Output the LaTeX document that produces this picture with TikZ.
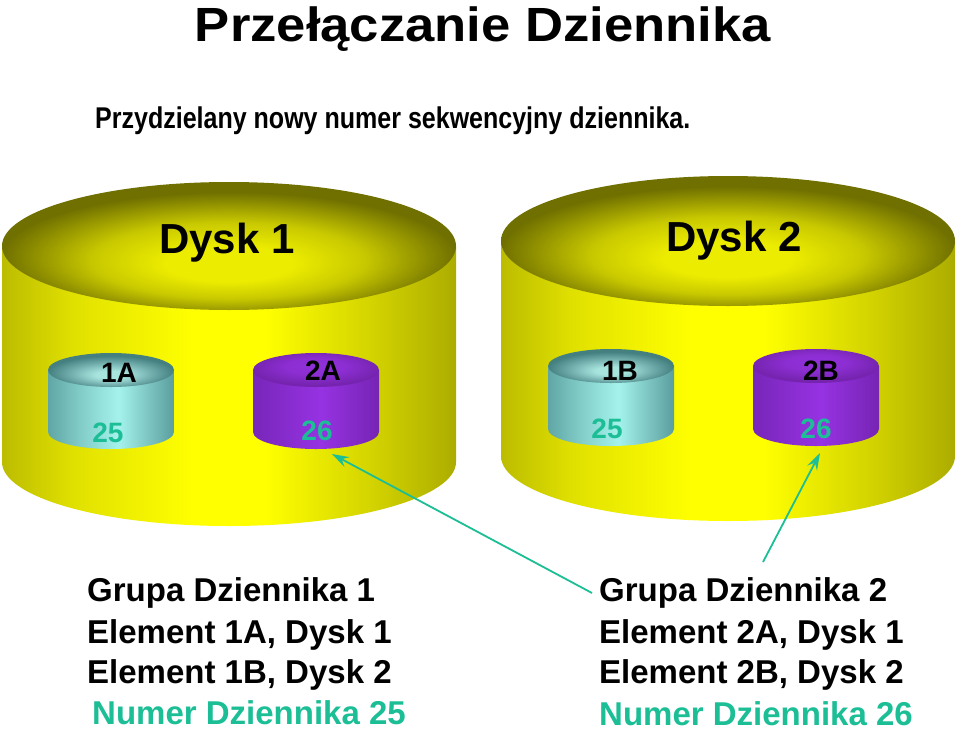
\documentclass[tikz,border=0pt]{standalone}
\usepackage{fontspec}
\setmainfont{Liberation Sans}
\usepackage{graphicx}
\usetikzlibrary{arrows.meta}

% yellow big disks
\definecolor{ysA}{RGB}{188,188,0}
\definecolor{ysB}{RGB}{225,225,0}
\definecolor{ysC}{RGB}{255,255,0}
\definecolor{ysD}{RGB}{210,210,0}
\definecolor{ysE}{RGB}{172,172,0}
\definecolor{ytA}{RGB}{236,236,0}
\definecolor{ytB}{RGB}{200,200,0}
\definecolor{ytC}{RGB}{112,112,0}
% cyan small disks
\definecolor{csA}{RGB}{96,166,166}
\definecolor{csB}{RGB}{130,205,200}
\definecolor{csC}{RGB}{165,242,236}
\definecolor{csD}{RGB}{90,158,158}
\definecolor{ctA}{RGB}{168,228,222}
\definecolor{ctB}{RGB}{120,180,178}
\definecolor{ctC}{RGB}{68,128,128}
% purple small disks
\definecolor{psA}{RGB}{120,38,186}
\definecolor{psB}{RGB}{150,50,226}
\definecolor{psC}{RGB}{118,36,180}
\definecolor{ptA}{RGB}{145,48,218}
\definecolor{ptB}{RGB}{140,46,210}
\definecolor{ptC}{RGB}{118,36,176}
% text / arrow teal
\definecolor{tealnum}{RGB}{28,190,150}

\pgfdeclarehorizontalshading{yside}{100bp}{color(0bp)=(ysA); color(25bp)=(ysA); color(33bp)=(ysB); color(46bp)=(ysC); color(54bp)=(ysC); color(66bp)=(ysD); color(75bp)=(ysE); color(100bp)=(ysE)}
\pgfdeclareradialshading{ytop}{\pgfpoint{0bp}{-8bp}}{color(0bp)=(ytA); color(7bp)=(ytA); color(15bp)=(ytB); color(25bp)=(ytC); color(50bp)=(ytC)}
\pgfdeclarehorizontalshading{cside}{100bp}{color(0bp)=(csA); color(25bp)=(csA); color(38bp)=(csB); color(53bp)=(csC); color(75bp)=(csD); color(100bp)=(csD)}
\pgfdeclareradialshading{ctop}{\pgfpoint{0bp}{-8bp}}{color(0bp)=(ctA); color(6bp)=(ctA); color(15bp)=(ctB); color(25bp)=(ctC); color(50bp)=(ctC)}
\pgfdeclarehorizontalshading{pside}{100bp}{color(0bp)=(psA); color(25bp)=(psA); color(52bp)=(psB); color(75bp)=(psC); color(100bp)=(psC)}
\pgfdeclareradialshading{ptop}{\pgfpoint{0bp}{7bp}}{color(0bp)=(ptA); color(12bp)=(ptB); color(25bp)=(ptC); color(50bp)=(ptC)}

% cylinder: cx, rx, ytop, ybottom, ry, side shading, top shading
\newcommand{\drawcyl}[7]{%
  \shade[shading=#6] ({#1-#2},#3) -- ({#1-#2},#4)
     arc[start angle=180, end angle=0, x radius=#2, y radius=#5]
     -- ({#1+#2},#3) -- cycle;
  \shade[shading=#7] (#1,#3) ellipse[x radius=#2, y radius=#5];
}

\begin{document}
\begin{tikzpicture}[x=1pt,y=-1pt,
  txt/.style={inner sep=0pt, anchor=base west, font=\fontsize{33}{36}\selectfont\bfseries},
  numtxt/.style={txt, text=tealnum, text depth=0pt},
  disklbl/.style={inner sep=0pt, anchor=base, font=\fontsize{42}{44}\selectfont\bfseries},
  cyllbl/.style={inner sep=0pt, anchor=base, font=\fontsize{28}{30}\selectfont\bfseries},
  cylnum/.style={cyllbl, text=tealnum},
  arr/.style={draw=tealnum, line width=1.8pt, -{Stealth[length=17pt, width=11pt, inset=6pt]}}
]
\useasboundingbox[fill=white] (0,0) rectangle (960,731);

% big disks
\drawcyl{229}{227}{246}{462}{64}{yside}{ytop}
\drawcyl{728}{227}{241}{456}{65}{yside}{ytop}

% small disks
\drawcyl{111}{63}{370}{432}{17}{cside}{ctop}
\drawcyl{316}{63}{370}{432}{17}{pside}{ptop}
\drawcyl{611}{63}{366}{429}{17}{cside}{ctop}
\drawcyl{816}{63}{366}{429}{17}{pside}{ptop}

% title
\node[inner sep=0pt, anchor=base, font=\fontsize{48}{50}\selectfont\bfseries] (title) at (483,41)
  {\scalebox{1.096}[1]{Przełączanie Dziennika}};
\node[inner sep=0pt, anchor=base west, font=\fontsize{30}{32}\selectfont\bfseries] (sub) at (95,128)
  {\scalebox{0.834}[1]{Przydzielany nowy numer sekwencyjny dziennika.}};

% disk labels
\node[disklbl] (d1) at (227,253) {Dysk 1};
\node[disklbl] (d2) at (734,251) {Dysk 2};

% small disk labels
\node[cyllbl] (l1A) at (119,382) {1A};
\node[cylnum] (n1A) at (108,442) {25};
\node[cyllbl] (l2A) at (323,380) {2A};
\node[cylnum] (n2A) at (317,440) {26};
\node[cyllbl] (l1B) at (620,380) {1B};
\node[cylnum] (n1B) at (607,438) {25};
\node[cyllbl] (l2B) at (821,380) {2B};
\node[cylnum] (n2B) at (816,438) {26};

% bottom texts
\node[txt] (g1a) at (87,601) {Grupa Dziennika 1};
\node[txt] (g1b) at (87,643) {Element 1A, Dysk 1};
\node[txt] (g1c) at (87,683) {Element 1B, Dysk 2};
\node[numtxt] (g1d) at (92,724) {Numer Dziennika 25};

\node[txt] (g2a) at (599,601) {Grupa Dziennika 2};
\node[txt] (g2b) at (599,643) {Element 2A, Dysk 1};
\node[txt] (g2c) at (599,683) {Element 2B, Dysk 2};
\node[numtxt] (g2d) at (599,725) {Numer Dziennika 26};

% arrows
\coordinate (a1s) at (592,593);
\coordinate (a1e) at (332,454);
\coordinate (a2s) at (763,562);
\coordinate (a2e) at (820,453);
\draw[arr] (a1s) -- (a1e);
\draw[arr] (a2s) -- (a2e);
\end{tikzpicture}
\end{document}
